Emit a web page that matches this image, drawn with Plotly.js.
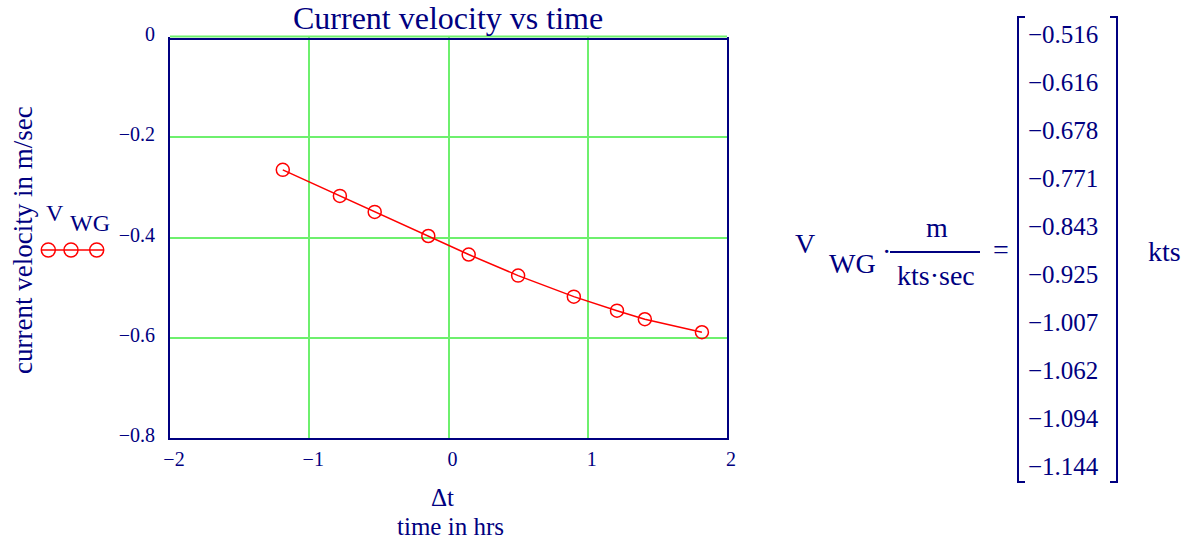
<!DOCTYPE html>
<html>
<head>
<meta charset="utf-8">
<script src="https://cdn.plot.ly/plotly-3.0.1.min.js"></script>
<style>
  html, body { margin: 0; padding: 0; background: #ffffff; }
  #chart { width: 1196px; height: 543px; }
</style>
</head>
<body>
<div id="chart"></div>
<script>
// ---- data ----
const timeHrs      = [-1.19, -0.78, -0.53, -0.145, 0.145, 0.50, 0.90, 1.21, 1.41, 1.82];
const velocityMs   = [-0.265, -0.317, -0.349, -0.397, -0.434, -0.476, -0.518, -0.546, -0.563, -0.589];
const velocityKts  = ["-0.516", "-0.616", "-0.678", "-0.771", "-0.843", "-0.925", "-1.007", "-1.062", "-1.094", "-1.144"];
const xTickVals    = [-2, -1, 0, 1, 2];
const chartTitle   = "Current velocity vs time";
const xTitleTop    = "Δt";
const xTitleBottom = "time in hrs";
const yTitle       = "current velocity in m/sec";

// ---- layout helpers (pixel -> paper) ----
const W = 1196, H = 543;
const L = 170, R = 727, T = 37, B = 438;
const PW = R - L, PH = B - T;
const px = x => (x - L) / PW;
const py = y => (B - y) / PH;
const NAVY = "#000080";
const GREEN = "#6ef06e";
const FONT = "Liberation Serif, Times New Roman, serif";

function ann(text, x, y, size, xanchor, extra) {
  return Object.assign({
    text: text, xref: "paper", yref: "paper", x: px(x), y: py(y),
    xanchor: xanchor || "center", yanchor: "middle", showarrow: false,
    font: {family: FONT, size: size, color: NAVY}
  }, extra || {});
}

const annotations = [
  ann(chartTitle, 448, 18.5, 32),
  ann(xTitleTop, 442, 497, 25),
  ann(xTitleBottom, 450, 526.5, 25),
  ann(yTitle, 23, 240, 27, "center", {textangle: -90}),
  // legend label
  ann("V", 55, 212.5, 24),
  ann("WG", 90, 223, 24),
  // right-hand expression
  ann("V", 805, 243.5, 28),
  ann("WG", 852, 263.5, 28),
  ann("·", 886, 251, 28),
  ann("m", 936.5, 227, 28),
  ann("kts·sec", 936, 275.5, 28),
  ann("=", 1001, 249.5, 28),
  ann("kts", 1164.5, 251.5, 28)
];
velocityKts.forEach((v, i) => {
  annotations.push(ann(v.replace("-", "−"), 1026, 34.5 + 48 * i, 25, "left"));
});

function seg(x0, y0, x1, y1, color, width) {
  return {type: "line", xref: "paper", yref: "paper",
          x0: px(x0), y0: py(y0), x1: px(x1), y1: py(y1),
          line: {color: color, width: width}};
}
const shapes = [
  seg(L, 36.5, R, 36.5, GREEN, 2),
  seg(L, 39, R, 39, NAVY, 2),
  seg(42, 250, 103, 250, "#ff0000", 1.5),
  seg(890, 252, 980, 252, NAVY, 2),
  seg(1018, 17, 1018, 482, NAVY, 2),
  seg(1017, 17, 1025, 17, NAVY, 2),
  seg(1017, 482, 1025, 482, NAVY, 2),
  seg(1117, 17, 1117, 482, NAVY, 2),
  seg(1110, 17, 1118, 17, NAVY, 2),
  seg(1110, 482, 1118, 482, NAVY, 2)
];
[48.3, 71, 96.7].forEach(cx => {
  shapes.push({type: "circle", xref: "paper", yref: "paper",
    x0: px(cx - 7), x1: px(cx + 7), y0: py(250 + 7), y1: py(250 - 7),
    fillcolor: "rgba(0,0,0,0)", line: {color: "#ff0000", width: 1.5}});
});

const trace = {
  x: timeHrs, y: velocityMs, type: "scatter", mode: "lines+markers",
  line: {color: "#ff0000", width: 1.5},
  marker: {symbol: "circle-open", size: 13, color: "#ff0000", line: {color: "#ff0000", width: 1.5}},
  showlegend: false, hoverinfo: "skip", cliponaxis: false
};

const layout = {
  width: W, height: H,
  margin: {l: L, r: W - R, t: T, b: H - B, pad: 0},
  paper_bgcolor: "#ffffff", plot_bgcolor: "#ffffff",
  showlegend: false,
  font: {family: FONT, color: NAVY},
  xaxis: {
    range: [-2, 2], tickvals: xTickVals, ticks: "",
    showgrid: true, gridcolor: GREEN, gridwidth: 2,
    zeroline: false, showline: true, mirror: false, linecolor: NAVY, linewidth: 2,
    tickfont: {family: FONT, size: 20, color: NAVY},
    ticklabelstandoff: 2, ticklabelshift: 4, fixedrange: true
  },
  yaxis: {
    range: [-0.8, 0], dtick: 0.2, tick0: 0, ticks: "",
    showgrid: true, gridcolor: GREEN, gridwidth: 2,
    zeroline: false, showline: true, mirror: true, linecolor: NAVY, linewidth: 2,
    tickfont: {family: FONT, size: 20, color: NAVY},
    ticklabelstandoff: 9, ticklabelshift: -3, fixedrange: true
  },
  annotations: annotations,
  shapes: shapes
};

Plotly.newPlot("chart", [trace], layout, {staticPlot: true, displayModeBar: false});
</script>
</body>
</html>
